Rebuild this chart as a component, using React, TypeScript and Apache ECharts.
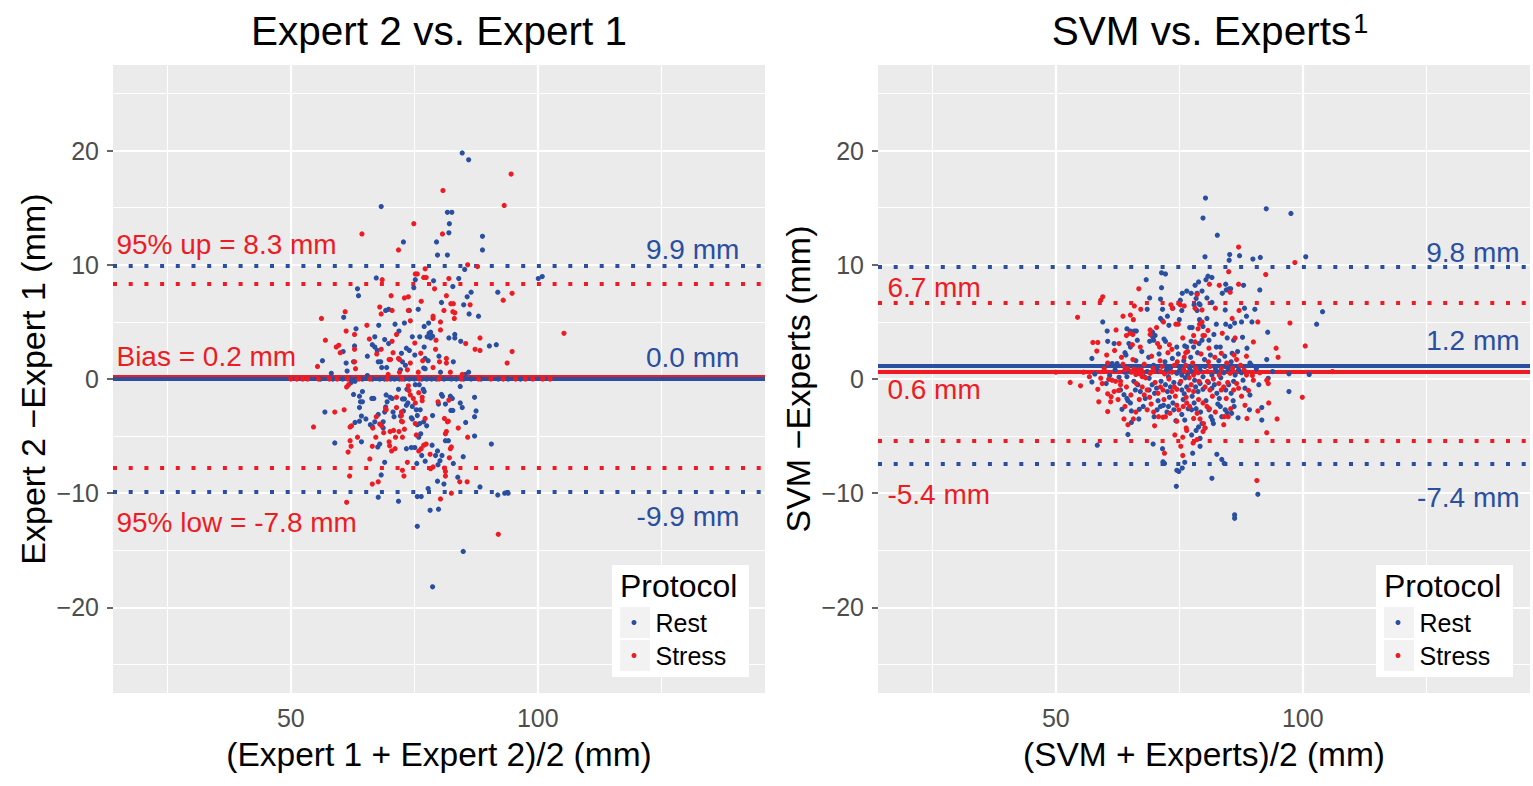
import React, { useEffect, useRef } from "react";
import * as echarts from "echarts";

// ---------- data ----------
const X_TICKS = [50, 100];
const Y_TICKS = [-20, -10, 0, 10, 20];
const X_MAJOR = [50, 100];
const X_MINOR = [25, 75, 125];
const Y_MAJOR = [-20, -10, 0, 10, 20];
const Y_MINOR = [-25, -15, -5, 5, 15, 25];

// limits: [low, bias, up]
const LEFT_REST_LIMITS = [-9.9, 0.0, 9.9];
const LEFT_STRESS_LIMITS = [-7.8, 0.2, 8.3];
const RIGHT_REST_LIMITS = [-7.4, 1.2, 9.8];
const RIGHT_STRESS_LIMITS = [-5.4, 0.6, 6.7];

// [x, y, text, protocol, side]
const LEFT_NOTES: [number, number, string, string, string][] = [
  [14.6, 11.8, "95% up = 8.3 mm", "Stress", "start"],
  [140.9, 11.3, "9.9 mm", "Rest", "end"],
  [14.6, 1.93, "Bias = 0.2 mm", "Stress", "start"],
  [140.9, 1.84, "0.0 mm", "Rest", "end"],
  [14.6, -12.6, "95% low = -7.8 mm", "Stress", "start"],
  [140.9, -12.0, "-9.9 mm", "Rest", "end"],
];
const RIGHT_NOTES: [number, number, string, string, string][] = [
  [15.8, 8.0, "6.7 mm", "Stress", "start"],
  [144.0, 11.1, "9.8 mm", "Rest", "end"],
  [144.0, 3.33, "1.2 mm", "Rest", "end"],
  [15.8, -0.96, "0.6 mm", "Stress", "start"],
  [15.8, -10.1, "-5.4 mm", "Stress", "start"],
  [144.0, -10.35, "-7.4 mm", "Rest", "end"],
];

const LEFT_REST = [
  [84.7,19.8],[86.0,19.2],[68.3,15.1],[81.7,14.6],[82.6,14.6],[82.1,13.6],[82.0,12.8],[88.8,12.5],[72.8,12.0],[79.5,12.0],
  [88.8,11.3],[79.7,10.85],[81.7,10.85],[85.2,9.6],[78.9,8.6],[84.0,8.8],[67.3,8.85],[75.2,8.7],[74.9,8.0],[82.8,8.1],
  [100.1,8.8],[100.9,8.97],[63.5,7.9],[63.7,7.3],[86.5,7.6],[91.9,7.6],[85.7,7.2],[80.5,6.7],[85.0,6.5],[69.2,6.0],
  [69.8,6.1],[74.0,6.0],[75.8,6.1],[86.1,5.7],[88.0,5.5],[60.7,5.4],[73.0,4.9],[71.1,4.8],[67.8,4.7],[77.9,4.9],
  [77.0,4.6],[63.2,4.4],[71.9,4.2],[78.3,4.1],[78.0,4.0],[74.6,3.7],[76.1,3.7],[77.6,3.7],[78.3,3.6],[78.7,3.75],
  [82.0,3.6],[83.2,3.9],[83.2,3.6],[84.4,3.3],[67.0,3.7],[69.0,3.45],[69.8,3.1],[77.0,2.8],[62.9,2.9],[66.5,3.0],
  [67.0,2.8],[67.5,2.5],[90.2,2.9],[91.6,3.0],[60.6,2.4],[72.4,2.25],[73.4,2.7],[74.0,2.5],[75.1,2.1],[80.0,2.0],
  [56.4,1.6],[61.2,1.4],[62.7,1.5],[65.5,2.0],[67.7,1.5],[68.2,1.5],[68.4,1.0],[72.6,1.5],[77.2,1.8],[77.8,1.6],
  [82.9,1.5],[58.2,0.5],[61.4,0.7],[65.5,0.3],[69.4,1.0],[73.2,1.2],[72.2,0.8],[76.9,0.96],[77.2,0.9],[80.3,0.6],
  [86.0,0.6],[85.3,0.4],
  [56.0,0],[58.5,0],[60.5,0],[62.0,0],[64.5,0],[66.5,0],[68.0,0],[69.0,0],[70.2,0],[71.0,0],[72.0,0],[73.0,0],
  [74.0,0],[75.0,0],[76.5,0],[77.5,0],[78.5,0],[79.5,0],[81.0,0],[82.5,0],[83.5,0],[85.0,0],[86.5,0],[88.5,0],
  [92.0,0],[94.0,0],[96.5,0],
  [64.5,-1.1],[62.7,-1.35],[63.9,-1.5],[66.4,-1.7],[66.8,-1.7],[64.1,-2.0],[64.5,-2.0],[63.9,-2.5],[56.9,-2.9],[58.9,-5.6],
  [64.3,-5.5],[63.9,-3.7],[64.3,-3.25],[65.2,-3.5],[63.0,-3.8],[66.1,-4.0],[66.5,-4.15],[67.0,-3.75],[67.7,-3.1],[68.7,-3.75],
  [68.7,-4.3],[67.6,-5.95],[68.0,-5.7],[69.0,-2.9],[69.2,-2.45],[69.5,-2.0],[69.3,-1.4],[70.1,-1.6],[70.5,-1.7],[70.7,-2.9],
  [70.9,-3.3],[71.8,-0.9],[72.6,-1.75],[73.0,-1.75],[72.2,-3.25],[72.8,-2.8],[73.4,-2.3],[73.7,-2.1],[73.5,-0.9],[74.6,-2.4],
  [75.4,-2.7],[76.2,-2.7],[74.4,-3.4],[74.6,-3.5],[75.6,-3.2],[75.6,-4.0],[76.1,-3.9],[76.8,-0.9],[77.0,-1.1],[75.2,-0.5],
  [76.0,-0.5],[77.5,-4.1],[76.9,-3.75],[78.7,-3.2],[76.3,-4.8],[75.9,-5.1],[73.4,-6.1],[74.4,-6.0],[75.1,-6.0],[76.5,-6.7],
  [77.2,-7.2],[78.6,-5.8],[79.7,-6.3],[79.3,-6.7],[79.8,-7.5],[80.2,-7.15],[80.6,-6.7],[79.7,-8.95],[81.0,-9.2],[79.9,-2.2],
  [80.5,-1.35],[80.7,-1.5],[81.3,-2.2],[82.3,-1.5],[82.7,-1.7],[84.3,-2.1],[84.7,-2.5],[84.3,-0.65],[82.4,-2.75],[82.8,-2.75],
  [81.3,-5.4],[81.9,-5.4],[82.9,-7.4],[84.9,-6.8],[85.4,-3.8],[87.2,-3.3],[87.5,-2.8],[87.2,-1.6],[87.2,-5.0],[90.6,-5.7],
  [83.8,-8.6],[88.3,-9.45],[91.9,-10.15],[93.3,-10.0],[94.0,-10.0],[77.8,-9.6],[75.6,-10.3],[76.4,-10.3],[78.2,-11.5],[79.9,-11.4],
  [75.6,-12.9],[84.9,-15.1],[78.7,-18.2],[67.7,-10.35],[71.8,-10.7],[68.3,-8.4],[69.0,-7.3],[75.5,-7.4],[62.2,-0.3],[63.0,-0.2],
];

const LEFT_STRESS = [
  [94.6,17.95],[80.8,16.5],[93.2,15.2],[74.9,13.6],[64.4,12.7],[80.7,12.7],[71.8,11.3],[85.8,10.0],[87.8,9.85],[77.2,9.65],
  [75.2,9.2],[75.6,9.2],[76.9,8.9],[77.4,8.9],[82.0,8.8],[68.5,8.7],[79.1,7.9],[94.8,7.5],[70.3,7.3],[73.0,7.1],
  [73.8,7.2],[81.5,7.3],[76.4,6.8],[82.4,6.6],[82.9,6.6],[86.3,6.5],[93.0,6.9],[68.0,6.3],[68.3,5.7],[70.5,6.0],
  [73.8,6.0],[81.0,6.0],[82.8,5.9],[83.2,5.8],[61.0,5.9],[56.2,5.3],[78.8,5.5],[78.8,5.3],[83.1,5.3],[74.2,5.1],
  [80.3,5.0],[65.4,4.7],[61.2,4.2],[80.3,4.3],[62.9,3.9],[71.4,3.9],[88.3,3.6],[79.4,3.4],[85.4,3.1],[57.0,3.4],
  [65.9,3.5],[70.5,3.3],[75.1,3.15],[59.2,2.8],[59.7,2.95],[62.9,2.6],[87.3,2.6],[88.3,2.5],[94.8,2.4],[105.3,4.0],
  [60.0,2.3],[68.3,2.6],[70.7,2.3],[76.3,2.25],[79.3,2.6],[55.4,1.1],[62.9,1.5],[67.4,2.2],[69.9,1.7],[70.2,1.7],
  [71.8,1.8],[72.0,1.7],[74.2,1.4],[76.7,1.6],[78.8,1.0],[80.1,1.5],[81.5,1.8],[81.5,1.4],[93.8,1.4],[63.1,0.9],
  [69.7,0.4],[73.6,0.8],[75.8,0.6],[82.3,0.6],[84.7,0.4],[72.0,0.6],
  [50.0,0],[51.2,0],[52.4,0],[53.4,0],[55.6,0],[57.8,0],[59.4,0],[61.5,0],[63.8,0],[66.0,0],[69.5,0],[72.5,0],
  [76.0,0],[80.0,0],[84.5,0],[88.0,0],[90.5,0],[93.0,0],[95.5,0],[97.5,0],[99.0,0],[101.0,0],[102.5,0],
  [61.3,-0.7],[61.7,-0.5],[58.9,-2.9],[60.8,-2.7],[54.6,-4.2],[62.0,-5.4],[62.2,-5.9],[61.6,-6.4],[63.5,-5.1],[62.0,-4.2],
  [62.3,-4.1],[66.6,-4.3],[67.3,-3.3],[68.0,-3.95],[68.4,-4.1],[67.2,-5.1],[68.8,-4.7],[69.9,-5.5],[70.0,-5.85],[66.5,-5.9],
  [69.2,-2.6],[69.3,-2.7],[71.4,-2.5],[71.4,-1.6],[72.4,-2.9],[72.4,-3.2],[72.4,-3.7],[70.1,-4.6],[70.8,-4.5],[71.2,-5.1],
  [71.9,-4.6],[72.6,-5.1],[73.0,-4.4],[72.6,-3.75],[73.8,-0.6],[73.9,-1.0],[74.2,-1.4],[74.8,-1.7],[75.2,-2.1],[75.2,-3.9],
  [76.6,-1.6],[76.6,-1.9],[75.9,-1.2],[77.2,-3.45],[75.4,-4.9],[75.9,-6.3],[76.4,-6.1],[76.9,-5.8],[77.4,-5.7],[78.2,-6.6],
  [78.8,-7.7],[78.3,-7.85],[81.3,-8.5],[79.8,-2.0],[82.0,-1.85],[81.1,-3.45],[81.7,-3.75],[81.9,-3.7],[81.3,-4.8],[81.5,-4.6],
  [82.5,-5.95],[82.3,-6.1],[82.1,-6.9],[83.9,-4.3],[85.8,-5.1],[84.2,-9.0],[85.7,-9.0],[82.5,-10.0],[80.3,-10.5],[81.1,-7.8],
  [81.3,-8.1],[92.0,-13.6],[61.3,-10.8],[61.9,-8.5],[66.5,-9.2],[67.7,-9.0],[66.0,-7.0],[72.6,-8.0],[72.9,-8.5],[73.6,-7.3],
  [70.4,-6.3],[71.1,-6.1],
];

const RIGHT_REST = [
  [80.3,15.85],[79.8,14.1],[92.6,14.9],[97.6,14.5],[82.7,12.6],[85.2,10.9],[85.1,10.4],[87.2,10.8],[89.9,10.5],[91.4,10.65],
  [80.2,10.7],[100.6,10.7],[71.4,9.3],[72.2,9.2],[68.3,8.7],[80.8,9.0],[81.6,8.9],[80.4,8.7],[78.9,8.5],[78.2,8.2],
  [84.4,8.3],[85.1,7.9],[85.4,7.9],[88.0,8.2],[71.4,8.0],[75.6,7.5],[76.5,7.7],[77.4,7.5],[78.6,7.5],[79.6,7.7],
  [80.6,7.1],[83.7,7.5],[84.5,7.8],[91.3,7.8],[69.0,7.1],[71.2,7.0],[75.2,6.9],[78.4,7.05],[79.0,6.6],[81.6,6.7],
  [68.5,6.1],[71.6,6.1],[73.7,6.2],[75.5,6.0],[78.0,6.5],[79.2,6.5],[78.6,6.0],[84.3,6.05],[88.2,6.2],[88.6,5.5],
  [90.3,6.1],[59.5,5.0],[71.2,5.3],[71.6,5.1],[72.6,5.5],[72.9,4.7],[75.0,5.2],[79.1,5.2],[77.1,4.5],[77.6,4.5],
  [79.8,4.6],[80.6,5.3],[82.5,4.8],[84.4,4.8],[85.3,4.6],[86.2,4.9],[87.6,5.0],[89.7,5.0],[102.8,4.8],[104.0,5.9],
  [92.9,4.1],[60.4,4.2],[60.5,3.3],[61.8,3.1],[64.4,4.4],[65.1,4.2],[65.9,4.2],[66.3,4.2],[64.8,3.1],[65.1,2.8],
  [66.5,3.4],[69.6,4.1],[69.6,3.7],[69.8,3.4],[70.1,3.8],[69.0,3.3],[71.9,3.5],[72.2,3.3],[74.5,2.8],[76.1,2.9],
  [76.5,2.8],[77.4,3.3],[77.9,2.8],[79.0,3.1],[79.6,3.4],[81.0,3.4],[82.0,3.9],[82.5,2.8],[83.3,2.8],[84.7,3.6],
  [86.0,3.4],[85.7,2.25],[87.8,3.65],[92.7,1.7],
  [57.3,1.8],[61.4,1.35],[62.4,1.35],[64.0,2.3],[64.2,2.1],[57.3,-0.26],[57.9,0.44],[60.2,-0.4],[62.8,0.15],[64.0,0.6],
  [64.4,0.2],[65.0,0.65],[65.8,-0.2],[67.9,0.2],[68.5,0.65],[68.9,0.06],[69.8,1.2],[70.5,0.95],[70.8,0.65],[72.4,0.8],
  [72.8,0.2],[73.2,0.95],[74.5,0.5],[75.1,0.8],[75.5,0.35],[76.7,0.35],[77.1,0.95],[77.5,0.65],[79.2,0.8],[79.8,0.2],
  [80.2,1.1],[81.6,0.35],[82.3,0.95],[82.6,0.65],[84.0,0.55],[84.3,1.1],[84.9,0.8],[86.3,0.35],[87.0,0.8],[87.6,0.55],
  [89.3,1.4],[89.6,1.2],[93.9,0.65],[97.2,0.45],[93.0,0.06],[91.1,-0.5],[101.3,0.4],[88.3,-0.8],[89.3,-1.4],
  [66.2,1.6],[67.4,2.4],[68.8,1.9],[70.9,2.2],[72.1,1.5],[73.6,1.8],[74.8,2.2],[75.9,1.6],[77.3,1.9],[78.7,2.3],
  [80.1,1.7],[81.3,2.1],[83.0,1.6],[84.2,2.0],[85.5,1.5],[86.8,2.4],[71.3,-0.2],[73.9,-0.3],[76.2,0.1],[78.1,-0.1],
  [80.9,-0.3],[83.4,0.1],[86.0,-0.2],[66.9,0.5],[62.0,0.8],[60.9,0.3],[88.7,2.7],[90.6,0.9],
  [63.1,-0.96],[63.8,-1.37],[64.4,-1.7],[65.1,-2.1],[66.1,-0.96],[66.6,-0.5],[67.1,-1.1],[68.9,-0.96],[69.5,-0.5],[70.0,-1.25],
  [70.4,-0.8],[72.2,-0.5],[72.6,-1.1],[73.2,-0.7],[75.1,-0.4],[75.5,-0.96],[76.0,-1.3],[76.5,-0.7],[78.3,-0.7],[78.8,-1.1],
  [79.2,-0.4],[79.8,-0.9],[81.6,-0.8],[82.1,-0.5],[82.6,-1.25],[84.4,-0.96],[85.0,-0.5],[85.5,-1.25],
  [68.1,-1.7],[70.7,-1.9],[73.0,-1.6],[75.8,-1.8],[77.6,-1.5],[80.4,-1.9],[83.1,-1.7],[85.9,-1.9],[87.9,-0.1],
  [67.7,-2.4],[69.9,-3.3],[72.5,-2.9],[76.8,-2.6],[79.3,-2.9],[82.8,-2.2],[86.9,-3.4],
  [63.4,-2.65],[64.6,-1.9],[65.3,-2.8],[66.9,-2.65],[66.8,-3.5],[70.5,-2.7],[71.2,-2.4],[71.8,-2.3],[65.3,-3.8],[72.8,-2.4],
  [73.7,-2.1],[73.9,-2.7],[75.5,-3.1],[76.1,-3.6],[74.3,-3.65],[77.5,-2.7],[78.0,-2.1],[78.4,-2.6],[78.9,-4.2],[79.6,-3.9],
  [80.2,-4.3],[81.0,-2.7],[81.4,-3.3],[81.7,-3.6],[81.9,-3.9],[83.3,-2.4],[83.6,-3.3],[84.3,-2.7],[84.7,-2.95],[85.6,-3.0],
  [86.1,-2.4],[89.2,-2.7],[91.7,-2.5],[91.7,-3.6],[97.2,-1.1],[64.6,-4.85],
  [77.5,-4.9],[78.4,-4.5],[79.2,-5.2],[69.7,-5.7],[71.6,-6.1],[71.7,-7.25],[72.0,-7.4],[58.4,-5.8],[79.2,-5.9],[77.7,-6.5],
  [82.6,-6.6],[83.6,-7.05],[84.1,-7.4],[74.5,-8.0],[74.9,-8.1],[75.6,-7.8],[76.1,-7.3],[81.6,-8.7],[74.4,-9.4],[90.9,-10.1],
  [86.2,-11.9],[86.2,-12.2],
];

const RIGHT_STRESS = [
  [87.0,11.55],[98.4,10.2],[92.5,9.15],[85.0,9.4],[81.1,8.3],[83.1,8.2],[87.0,8.3],[66.8,7.9],[78.6,7.4],[85.3,7.6],
  [59.5,7.2],[59.1,6.9],[75.0,6.6],[65.9,6.4],[67.2,6.1],[73.3,6.5],[73.6,6.2],[75.2,6.5],[76.0,6.4],[78.2,6.2],
  [79.6,6.05],[82.3,6.2],[87.1,6.0],[54.4,5.4],[63.6,5.5],[65.1,5.6],[65.7,5.2],[71.8,5.0],[74.3,4.8],[74.8,4.8],
  [79.1,4.8],[79.6,5.0],[78.8,4.4],[85.7,5.3],[90.9,5.0],[97.4,4.9],[58.5,3.2],[57.5,3.2],[62.2,4.3],[62.8,3.1],
  [64.3,3.8],[65.0,4.0],[65.6,3.9],[65.5,3.0],[67.1,2.8],[69.1,4.3],[69.1,3.9],[70.4,4.5],[70.6,3.1],[71.0,2.8],
  [73.0,3.0],[73.5,2.6],[75.7,3.6],[76.3,2.3],[76.7,2.4],[77.9,3.8],[78.2,3.25],[79.8,3.8],[80.1,3.8],[80.8,4.25],
  [81.0,2.7],[83.7,4.0],[86.3,3.6],[83.5,2.25],[90.0,3.25],[94.6,2.7],[95.0,1.9],[100.5,2.9],[88.6,2.0],[86.6,1.7],
  [58.3,2.45],[60.3,2.1],[60.5,1.4],[63.6,1.3],[64.0,0.8],[50.0,0.6],[55.6,0.6],[52.9,-0.3],[55.0,-0.6],[59.1,0.07],
  [59.4,-0.4],[58.5,-0.9],[60.7,-0.03],[61.4,-0.1],[62.1,-0.2],[63.1,-0.2],[64.1,0.9],[64.6,0.9],[65.3,0.6],[65.8,0.85],
  [66.2,0.4],[66.6,0.8],[67.0,0.45],[67.3,0.8],[67.5,0.2],[69.1,0.5],[69.7,0.95],[71.2,0.65],[71.5,1.1],[72.0,0.45],
  [73.5,0.6],[74.0,1.2],[75.9,0.8],[76.3,1.2],[77.9,0.35],[78.3,0.95],[78.8,0.55],[80.7,0.65],[81.2,1.1],[83.1,0.35],
  [83.5,0.9],[85.3,0.5],[85.8,0.95],[88.1,0.8],[88.6,0.35],[91.3,0.55],[106.0,0.65],[90.0,-0.1],[92.7,-0.1],[93.0,-0.4],
  [89.0,-1.0],[86.6,-0.4],[87.0,-0.8],
  [61.9,2.5],[63.3,1.9],[65.6,1.7],[67.9,1.3],[69.4,2.0],[71.1,1.6],[72.7,2.3],[74.6,1.5],[76.0,1.9],[77.7,1.4],
  [79.4,2.2],[80.9,1.5],[82.2,1.9],[84.6,1.4],[86.1,2.1],[87.4,1.2],[89.8,0.3],[66.3,-0.4],[68.2,0.1],[70.1,-0.3],
  [72.9,0.0],[75.3,-0.2],[77.0,0.1],[79.0,-0.2],[81.9,0.0],[84.8,-0.3],[59.8,0.9],[56.8,0.2],
  [61.8,-1.1],[60.5,-1.3],[61.2,-1.55],[62.6,-1.8],[63.1,-0.5],[64.3,-0.7],[67.5,-0.7],[67.9,-1.4],[68.5,-0.96],[70.7,-1.25],
  [71.2,-0.7],[71.7,-0.96],[73.5,-1.1],[74.0,-0.7],[74.5,-0.9],[76.9,-0.96],[77.4,-0.5],[77.9,-1.1],[80.2,-0.7],[80.7,-0.2],
  [81.2,-0.96],[83.0,-0.4],[83.5,-0.96],[84.0,-0.7],[86.0,-0.96],
  [62.7,-1.0],[65.2,-1.4],[66.9,-1.8],[69.0,-1.6],[71.9,-1.8],[74.2,-1.5],[76.4,-1.6],[78.9,-1.8],[81.7,-1.5],[84.5,-1.7],
  [87.6,-1.5],[64.0,-2.4],[66.2,-2.9],[73.1,-3.0],[75.8,-2.4],[78.6,-3.0],[81.1,-2.6],[85.4,-2.6],[88.3,-2.3],
  [58.7,-2.0],[61.1,-2.0],[60.5,-2.85],[63.8,-3.5],[64.6,-4.0],[65.7,-3.5],[68.5,-2.7],[69.3,-2.2],[69.8,-2.9],[70.8,-3.3],
  [71.7,-3.35],[72.2,-3.3],[70.0,-4.1],[74.5,-2.3],[74.9,-2.7],[74.5,-3.7],[76.4,-4.3],[76.5,-2.1],[77.1,-2.4],[77.9,-3.45],
  [79.2,-3.5],[79.9,-3.9],[79.8,-2.1],[80.6,-2.4],[82.3,-2.9],[84.0,-4.0],[84.1,-3.3],[84.9,-3.3],[88.7,-3.45],[90.9,-2.8],
  [93.1,-2.1],[94.8,-3.5],[92.7,-4.7],[99.9,-1.6],
  [74.1,-4.9],[75.7,-5.1],[76.5,-4.5],[77.8,-5.6],[78.6,-5.3],[79.8,-4.6],[80.2,-4.3],[75.3,-5.9],[75.7,-6.7],[72.0,-6.5],
  [90.7,-8.9],
];

// ---------- styles ----------
const BLUE = "#2A4EA0";
const RED = "#ED1C24";
const FONT = "Liberation Sans, Arial, Helvetica, sans-serif";
const PANEL_BG = "#EBEBEB";

const fmtTick = (v: number) => (v < 0 ? "\u2212" + Math.abs(v) : String(v));

function xAxis(gridIndex: number, name: string) {
  return {
    type: "value",
    gridIndex,
    min: 14,
    max: 146,
    name,
    nameLocation: "middle",
    nameGap: 44,
    nameTextStyle: { fontSize: 33.5, color: "#000", fontFamily: FONT },
    axisLine: { show: false },
    splitLine: { show: false },
    axisTick: { show: true, customValues: X_TICKS, length: 6, lineStyle: { color: "#333", width: 1.5 } },
    axisLabel: { customValues: X_TICKS, color: "#4D4D4D", fontSize: 25, margin: 12, fontFamily: FONT, formatter: fmtTick },
  };
}

function yAxis(gridIndex: number, name: string) {
  return {
    type: "value",
    gridIndex,
    min: -27.5,
    max: 27.5,
    name,
    nameLocation: "middle",
    nameGap: 63,
    nameTextStyle: { fontSize: 34, color: "#000", fontFamily: FONT },
    axisLine: { show: false },
    splitLine: { show: false },
    axisTick: { show: true, customValues: Y_TICKS, length: 6, lineStyle: { color: "#333", width: 1.5 } },
    axisLabel: { customValues: Y_TICKS, color: "#4D4D4D", fontSize: 25, margin: 14, fontFamily: FONT, formatter: fmtTick },
  };
}

function gridSeries(idx: number) {
  const major = { color: "#FFFFFF", width: 2.2, type: "solid" };
  const minor = { color: "#FFFFFF", width: 1.1, type: "solid" };
  return {
    type: "line",
    name: "grid" + idx,
    xAxisIndex: idx,
    yAxisIndex: idx,
    data: [],
    silent: true,
    z: 1,
    markLine: {
      silent: true,
      symbol: "none",
      z: 1,
      animation: false,
      label: { show: false },
      emphasis: { disabled: true },
      data: [
        ...X_MINOR.map((v) => ({ xAxis: v, lineStyle: minor })),
        ...Y_MINOR.map((v) => ({ yAxis: v, lineStyle: minor })),
        ...X_MAJOR.map((v) => ({ xAxis: v, lineStyle: major })),
        ...Y_MAJOR.map((v) => ({ yAxis: v, lineStyle: major })),
      ],
    },
  };
}

function limitSeries(idx: number, rest: number[], stress: number[]) {
  const dotted = (c: string) => ({ color: c, width: 4, type: [4, 11.7], cap: "butt", opacity: 1 });
  const solid = (c: string) => ({ color: c, width: 4, type: "solid", opacity: 1 });
  return {
    type: "line",
    name: "limits" + idx,
    xAxisIndex: idx,
    yAxisIndex: idx,
    data: [],
    silent: true,
    z: 2,
    markLine: {
      silent: true,
      symbol: "none",
      z: 2,
      animation: false,
      label: { show: false },
      emphasis: { disabled: true },
      data: [
        { yAxis: rest[0], lineStyle: dotted(BLUE) },
        { yAxis: rest[2], lineStyle: dotted(BLUE) },
        { yAxis: stress[0], lineStyle: dotted(RED) },
        { yAxis: stress[2], lineStyle: dotted(RED) },
        { yAxis: stress[1], lineStyle: solid(RED) },
        { yAxis: rest[1], lineStyle: solid(BLUE) },
      ],
    },
  };
}

function pointSeries(idx: number, name: string, data: number[][], color: string) {
  return {
    type: "scatter",
    name,
    xAxisIndex: idx,
    yAxisIndex: idx,
    data,
    symbol: "circle",
    symbolSize: 5.2,
    itemStyle: { color, opacity: 1 },
    z: 4,
    silent: true,
  };
}

function noteSeries(idx: number, notes: [number, number, string, string, string][]) {
  return {
    type: "scatter",
    name: "notes" + idx,
    xAxisIndex: idx,
    yAxisIndex: idx,
    symbolSize: 1,
    silent: true,
    z: 5,
    itemStyle: { color: "rgba(0,0,0,0)", opacity: 1 },
    data: notes.map((n) => ({
      value: [n[0], n[1]],
      label: {
        show: true,
        formatter: n[2],
        position: n[4] === "start" ? "right" : "left",
        distance: 0,
        color: n[3] === "Rest" ? BLUE : RED,
        opacity: 1,
        fontSize: 28,
        fontFamily: FONT,
      },
    })),
  };
}

function legendGraphics(dx: number) {
  return [
    { type: "rect", z: 10, shape: { x: 612 + dx, y: 565, width: 137, height: 112 }, style: { fill: "#FFFFFF" } },
    {
      type: "text", z: 11, x: 620 + dx, y: 586,
      style: { text: "Protocol", fontSize: 32, fill: "#000", fontFamily: FONT, verticalAlign: "middle", align: "left" },
    },
    { type: "rect", z: 11, shape: { x: 620 + dx, y: 607, width: 30, height: 31 }, style: { fill: "#F2F2F2" } },
    { type: "rect", z: 11, shape: { x: 620 + dx, y: 640, width: 30, height: 31 }, style: { fill: "#F2F2F2" } },
  ];
}

function legend(dx: number) {
  return {
    orient: "vertical",
    left: 631.5 + dx,
    top: 606,
    z: 20,
    padding: 0,
    itemGap: 0,
    itemWidth: 5,
    itemHeight: 5,
    icon: "circle",
    selectedMode: false,
    data: ["Rest", "Stress"],
    itemStyle: { opacity: 1 },
    textStyle: { fontSize: 25, color: "#000", fontFamily: FONT, lineHeight: 33, padding: [0, 0, 0, 14] },
  };
}

export default function App() {
  const ref = useRef<HTMLDivElement>(null);
  useEffect(() => {
    if (!ref.current) return;
    const chart = echarts.init(ref.current, undefined, { renderer: "svg" });
    chart.setOption({
      animation: false,
      backgroundColor: "#FFFFFF",
      textStyle: { fontFamily: FONT },
      title: [
        {
          text: "Expert 2 vs. Expert 1",
          left: 439,
          top: 10,
          textAlign: "center",
          padding: 0,
          textStyle: { fontSize: 40.5, fontWeight: "normal", color: "#000", fontFamily: FONT },
        },
        {
          text: "SVM vs. Experts{sup|1}",
          left: 1210,
          top: 10,
          textAlign: "center",
          padding: 0,
          textStyle: {
            fontSize: 40.5, fontWeight: "normal", color: "#000", fontFamily: FONT,
            rich: { sup: { fontSize: 27, verticalAlign: "top", color: "#000", fontFamily: FONT, padding: [0, 0, 14, 2] } },
          },
        },
      ],
      grid: [
        { left: 113, top: 65, width: 652, height: 628, show: true, backgroundColor: PANEL_BG, borderWidth: 0 },
        { left: 878, top: 65, width: 652, height: 628, show: true, backgroundColor: PANEL_BG, borderWidth: 0 },
      ],
      xAxis: [xAxis(0, "(Expert 1 + Expert 2)/2 (mm)"), xAxis(1, "(SVM + Experts)/2 (mm)")],
      yAxis: [yAxis(0, "Expert 2 \u2212Expert 1 (mm)"), yAxis(1, "SVM \u2212Experts (mm)")],
      legend: [legend(0), legend(764)],
      graphic: [...legendGraphics(0), ...legendGraphics(764)],
      series: [
        gridSeries(0),
        gridSeries(1),
        limitSeries(0, LEFT_REST_LIMITS, LEFT_STRESS_LIMITS),
        limitSeries(1, RIGHT_REST_LIMITS, RIGHT_STRESS_LIMITS),
        pointSeries(0, "Rest", LEFT_REST, BLUE),
        pointSeries(0, "Stress", LEFT_STRESS, RED),
        pointSeries(1, "Rest", RIGHT_REST, BLUE),
        pointSeries(1, "Stress", RIGHT_STRESS, RED),
        noteSeries(0, LEFT_NOTES),
        noteSeries(1, RIGHT_NOTES),
      ],
    });
    return () => chart.dispose();
  }, []);
  return <div ref={ref} style={{ position: "absolute", left: 0, top: 0, width: 1533, height: 786 }} />;
}
